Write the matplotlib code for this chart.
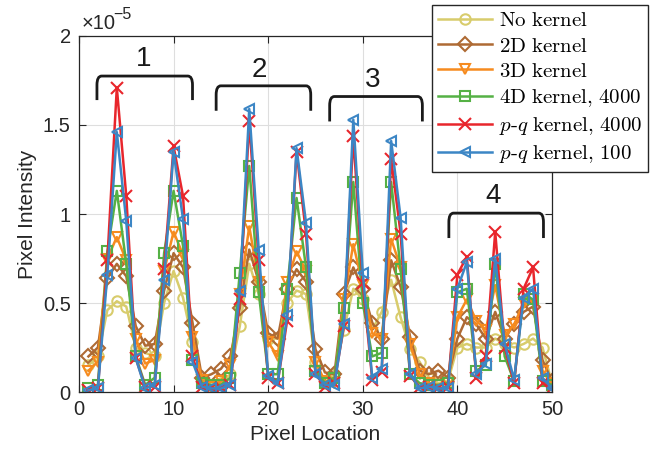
import numpy as np
import matplotlib
matplotlib.use("Agg")
import matplotlib.pyplot as plt
from matplotlib.path import Path
from matplotlib.patches import PathPatch

plt.rcParams['font.family'] = ['Liberation Sans', 'DejaVu Sans']
plt.rcParams['mathtext.fontset'] = 'cm'

# ── 데이터 (단위: 1e-5) ─────────────────────────────────
pixel = np.arange(1, 51)

no_kernel = [0.15, 0.20, 0.46, 0.51, 0.48, 0.25, 0.22, 0.20, 0.50, 0.68,
             0.53, 0.28, 0.06, 0.04, 0.05, 0.10, 0.37, 0.72, 0.55, 0.30,
             0.30, 0.50, 0.57, 0.55, 0.17, 0.05, 0.10, 0.35, 0.58, 0.52,
             0.35, 0.45, 0.63, 0.42, 0.24, 0.17, 0.08, 0.05, 0.06, 0.25,
             0.27, 0.25, 0.25, 0.30, 0.27, 0.25, 0.27, 0.30, 0.25, 0.05]
kernel_2d = [0.20, 0.25, 0.64, 0.72, 0.65, 0.37, 0.26, 0.27, 0.57, 0.78,
             0.70, 0.39, 0.08, 0.10, 0.13, 0.20, 0.47, 0.80, 0.62, 0.33,
             0.30, 0.58, 0.69, 0.62, 0.24, 0.11, 0.10, 0.55, 0.70, 0.58,
             0.39, 0.30, 0.74, 0.59, 0.31, 0.12, 0.10, 0.12, 0.08, 0.30,
             0.42, 0.38, 0.30, 0.45, 0.30, 0.38, 0.45, 0.48, 0.18, 0.06]
kernel_3d = [0.12, 0.17, 0.75, 0.87, 0.74, 0.30, 0.16, 0.18, 0.68, 0.90,
             0.77, 0.31, 0.07, 0.03, 0.06, 0.15, 0.55, 0.93, 0.62, 0.28,
             0.20, 0.62, 0.79, 0.68, 0.17, 0.06, 0.05, 0.52, 0.83, 0.60,
             0.33, 0.30, 0.86, 0.70, 0.27, 0.10, 0.05, 0.04, 0.05, 0.42,
             0.52, 0.40, 0.35, 0.60, 0.32, 0.38, 0.50, 0.52, 0.12, 0.05]
kernel_4d = [0.02, 0.04, 0.79, 1.13, 0.72, 0.20, 0.04, 0.08, 0.78, 1.13,
             0.82, 0.18, 0.05, 0.04, 0.04, 0.08, 0.67, 1.27, 0.56, 0.10,
             0.10, 0.58, 1.09, 0.70, 0.12, 0.05, 0.08, 0.47, 1.18, 0.50,
             0.20, 0.22, 1.18, 0.69, 0.10, 0.05, 0.04, 0.04, 0.05, 0.56,
             0.58, 0.12, 0.15, 0.72, 0.20, 0.06, 0.55, 0.52, 0.06, 0.04]
pq_4000 = [0.01, 0.02, 0.74, 1.71, 1.10, 0.19, 0.03, 0.03, 0.69, 1.38,
           1.10, 0.20, 0.03, 0.02, 0.02, 0.04, 0.52, 1.52, 0.74, 0.08,
           0.05, 0.40, 1.35, 0.89, 0.10, 0.03, 0.05, 0.37, 1.44, 0.61,
           0.07, 0.11, 1.31, 0.89, 0.09, 0.03, 0.03, 0.02, 0.03, 0.66,
           0.76, 0.08, 0.20, 0.90, 0.25, 0.05, 0.58, 0.70, 0.05, 0.02]
pq_100 = [0.01, 0.02, 0.66, 1.46, 0.96, 0.19, 0.02, 0.04, 0.63, 1.35,
          0.97, 0.17, 0.03, 0.02, 0.02, 0.04, 0.57, 1.59, 0.80, 0.09,
          0.05, 0.43, 1.37, 0.95, 0.10, 0.04, 0.04, 0.38, 1.53, 0.67,
          0.08, 0.13, 1.41, 0.98, 0.10, 0.02, 0.03, 0.02, 0.02, 0.58,
          0.73, 0.10, 0.16, 0.75, 0.27, 0.07, 0.53, 0.58, 0.08, 0.02]

# (라벨, 값, 색, 마커)
SERIES = [
    (r'$\mathrm{No\ kernel}$',                        no_kernel, '#D8CC6C', 'o'),
    (r'$\mathrm{2D\ kernel}$',                        kernel_2d, '#AE6A34', 'D'),
    (r'$\mathrm{3D\ kernel}$',                        kernel_3d, '#F68B1F', 'v'),
    (r'$\mathrm{4D\ kernel{,}\ 4000}$',               kernel_4d, '#55B145', 's'),
    (r'$p\mathrm{\text{-}}q\ \mathrm{kernel{,}\ 4000}$', pq_4000, '#E8262C', 'x'),
    (r'$p\mathrm{\text{-}}q\ \mathrm{kernel{,}\ 100}$',  pq_100,  '#3C86C5', '<'),
]

# 그룹 표시 괄호: (라벨, x시작, x끝, 윗변 y, 끝 y, 라벨 x, 라벨 y)
GROUPS = [
    ('1', 1.9, 12.0, 1.775, 1.64, 6.8, 1.87),
    ('2', 14.5, 24.5, 1.72, 1.58, 19.1, 1.81),
    ('3', 26.5, 36.3, 1.66, 1.52, 31.0, 1.75),
    ('4', 39.1, 49.1, 1.005, 0.865, 43.8, 1.10),
]


def _bracket(ax, x0, x1, ytop, ybot, dx=0.5, dy=0.05):
    verts = [(x0, ybot), (x0, ytop - dy), (x0, ytop), (x0 + dx, ytop),
             (x1 - dx, ytop), (x1, ytop), (x1, ytop - dy), (x1, ybot)]
    codes = [Path.MOVETO, Path.LINETO, Path.CURVE3, Path.CURVE3,
             Path.LINETO, Path.CURVE3, Path.CURVE3, Path.LINETO]
    ax.add_patch(PathPatch(Path(verts, codes), fill=False, lw=2.0,
                           edgecolor='#1a1a1a', capstyle='butt', zorder=5))


fig = plt.figure(figsize=(6.62, 4.58), dpi=100)
ax = fig.add_axes([0.1193, 0.1441, 0.7145, 0.7773])

for label, vals, color, marker in SERIES:
    ax.plot(pixel, vals, color=color, lw=1.8, marker=marker,
            markersize=7.5 if marker != 'x' else 8,
            markerfacecolor='none', markeredgecolor=color,
            markeredgewidth=1.5, label=label)

for txt, x0, x1, yt, yb, lx, ly in GROUPS:
    _bracket(ax, x0, x1, yt, yb)
    ax.text(lx, ly, txt, fontsize=20, ha='center', va='center', color='#1a1a1a')

ax.set_xlim(0, 50)
ax.set_ylim(0, 2)
ax.set_xticks([0, 10, 20, 30, 40, 50])
ax.set_yticks([0, 0.5, 1, 1.5, 2])
ax.set_yticklabels(['0', '0.5', '1', '1.5', '2'])
ax.tick_params(direction='in', length=5, width=0.8, labelsize=14.5,
               colors='#262626', top=True, right=True, pad=6)
for s in ax.spines.values():
    s.set_color('#262626')
    s.set_linewidth(0.9)
ax.grid(True, color='#dedede', lw=0.8)
ax.set_axisbelow(True)

ax.set_xlabel('Pixel Location', fontsize=15, color='#262626', labelpad=4)
ax.set_ylabel('Pixel Intensity', fontsize=15, color='#262626', labelpad=4)

# 지수 표시 (×10^-5)
ax.text(0.006, 1.008, '\u00d710', transform=ax.transAxes, fontsize=14.5,
        color='#262626', ha='left', va='bottom')
ax.text(0.072, 1.040, '\u22125', transform=ax.transAxes, fontsize=11.5,
        color='#262626', ha='left', va='bottom')

leg = fig.legend(loc='upper right', bbox_to_anchor=(0.979, 0.989),
                 fontsize=15, frameon=True, fancybox=False, framealpha=1,
                 edgecolor='#262626', handlelength=2.6, handletextpad=0.3,
                 borderpad=0.3, labelspacing=0.3, borderaxespad=0)
leg.get_frame().set_linewidth(1.0)
leg.set_zorder(10)

fig.savefig('out.png', dpi=100)
